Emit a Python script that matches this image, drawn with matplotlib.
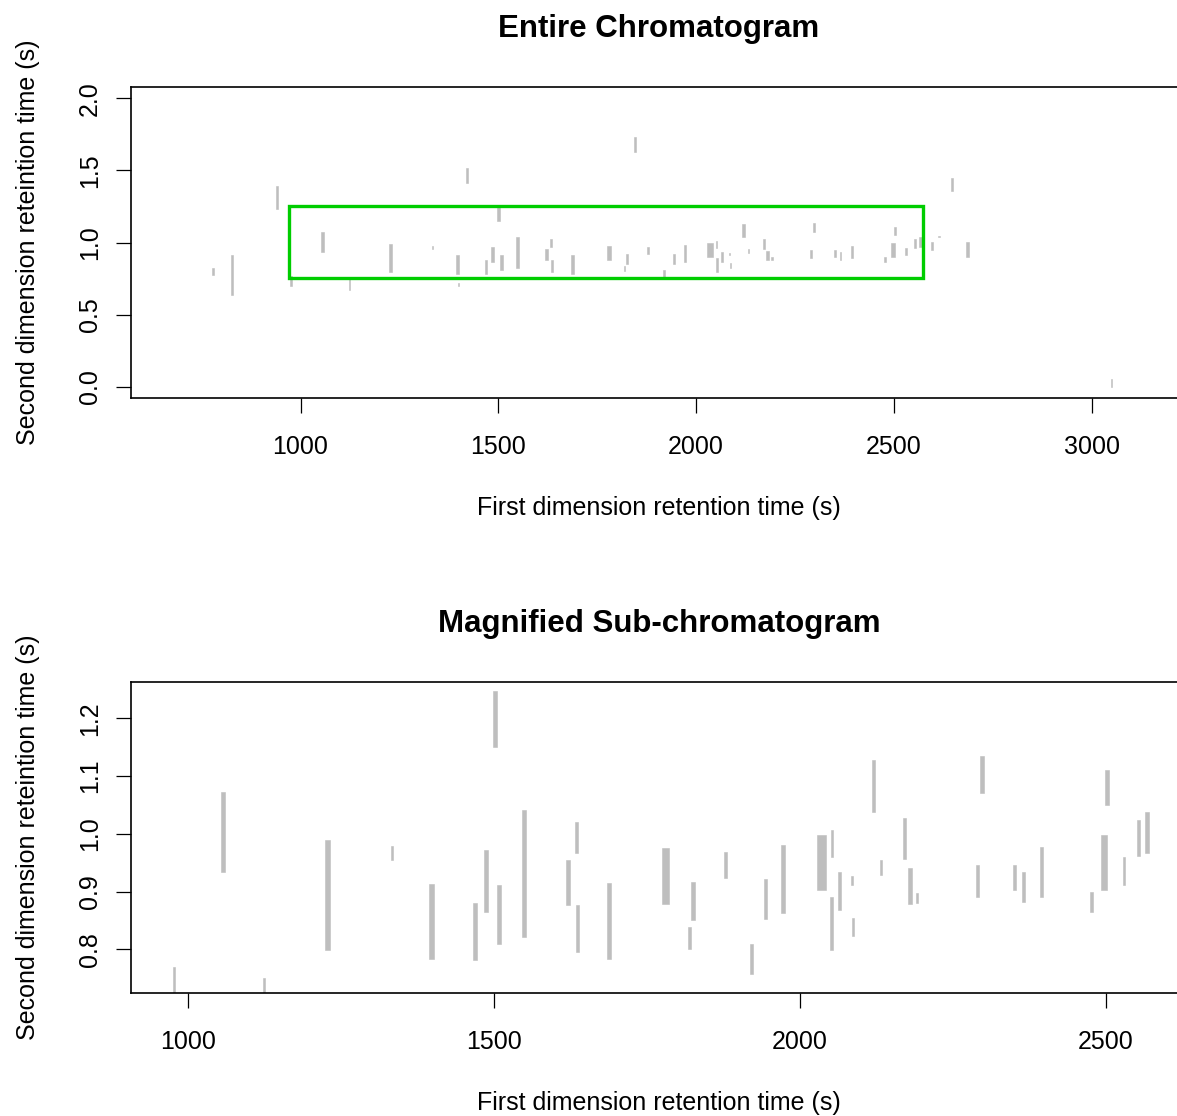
import matplotlib
matplotlib.use("Agg")
import matplotlib.pyplot as plt
from matplotlib.patches import Rectangle
import numpy as np

plt.rcParams['font.family'] = ['Liberation Sans', 'DejaVu Sans']

# ---- data: detected peaks (first-dimension RT, second-dimension RT range, peak width in s)
peak_rt1 = [779, 828, 940, 976, 1056, 1123, 1227, 1333, 1397, 1400, 1422, 1469, 1486,
            1501, 1508, 1549, 1621, 1634, 1636, 1688, 1780, 1819, 1825, 1846, 1878,
            1920, 1944, 1972, 2035, 2052, 2052, 2065, 2085, 2087, 2120, 2132, 2171,
            2180, 2192, 2290, 2298, 2351, 2365, 2395, 2477, 2497, 2502, 2530, 2553,
            2568, 2597, 2614, 2648, 2687, 3050]
peak_rt2_lo = [0.775, 0.636, 1.232, 0.700, 0.934, 0.671, 0.798, 0.955, 0.784, 0.700, 1.412, 0.781, 0.865,
               1.151, 0.810, 0.821, 0.876, 0.966, 0.795, 0.784, 0.879, 0.801, 0.850, 1.629, 0.923,
               0.758, 0.853, 0.862, 0.902, 0.960, 0.798, 0.868, 0.911, 0.823, 1.038, 0.929, 0.957,
               0.879, 0.880, 0.891, 1.071, 0.902, 0.882, 0.891, 0.865, 0.902, 1.050, 0.911, 0.961,
               0.966, 0.948, 1.035, 1.357, 0.902, 0.000]
peak_rt2_hi = [0.821, 0.913, 1.394, 0.769, 1.073, 0.750, 0.990, 0.979, 0.913, 0.720, 1.516, 0.880, 0.972,
               1.247, 0.911, 1.041, 0.955, 1.021, 0.876, 0.914, 0.975, 0.839, 0.917, 1.733, 0.969,
               0.810, 0.921, 0.981, 0.998, 1.007, 0.891, 0.934, 0.927, 0.855, 1.127, 0.955, 1.027,
               0.940, 0.897, 0.946, 1.135, 0.946, 0.934, 0.978, 0.899, 0.998, 1.110, 0.960, 1.024,
               1.038, 1.006, 1.045, 1.449, 1.006, 0.055]
peak_width = [6, 5, 5, 3, 7, 3, 8, 3, 8, 3, 5, 7, 7,
              7, 7, 7, 7, 5, 6, 7, 10, 4, 6, 5, 5,
              5, 5, 6, 14, 4, 5, 5, 3, 3, 6, 3, 5,
              6, 3, 5, 6, 5, 5, 5, 4, 9, 6, 4, 5,
              7, 5, 3, 5, 8, 3]

# region selected for magnification
rect_rt1 = [970, 2573]
rect_rt2 = [0.755, 1.25]

top_xticks = [1000, 1500, 2000, 2500, 3000]
top_yticks = [0.0, 0.5, 1.0, 1.5, 2.0]
bot_xticks = [1000, 1500, 2000, 2500]
bot_yticks = [0.8, 0.9, 1.0, 1.1, 1.2]

xlabel = "First dimension retention time (s)"
ylabel = "Second dimension reteintion time (s)"
titles = ["Entire Chromatogram", "Magnified Sub-chromatogram"]

PEAK = '#BEBEBE'
GREEN = '#00CD00'

W, H = 1177, 1116
fig = plt.figure(figsize=(W / 100, H / 100), dpi=100)

ax_h = 311.6 / H
ax_w = 1056 / W
ax_l = 131 / W
ax_top = fig.add_axes([ax_l, (H - 398.3) / H, ax_w, ax_h])
ax_bot = fig.add_axes([ax_l, (H - 993.3) / H, ax_w, ax_h])

x = np.array(peak_rt1, dtype=float)
lo = np.array(peak_rt2_lo)
hi = np.array(peak_rt2_hi)
w = np.array(peak_width, dtype=float)


def style(ax, xticks, yticks, yfmt, title):
    for s in ax.spines.values():
        s.set_linewidth(1.2)
        s.set_color('black')
    ax.set_xticks(xticks)
    ax.set_xticklabels([str(v) for v in xticks])
    ax.set_yticks(yticks)
    ax.set_yticklabels([yfmt.format(v) for v in yticks])
    ax.tick_params(axis='both', direction='out', length=11, width=0.9,
                   labelsize=18, colors='black')
    ax.tick_params(axis='x', pad=15.5)
    ax.tick_params(axis='y', pad=10, labelrotation=90)
    for lab in ax.get_yticklabels():
        lab.set_va('center')
        lab.set_ha('right')
    ax.set_xlabel(xlabel, fontsize=18, va='baseline')
    ax.xaxis.set_label_coords(0.5, -116.7 / 311.6)
    ax.set_ylabel(ylabel, fontsize=18, va='baseline')
    ax.yaxis.set_label_coords((35 - 131) / 1056, 0.5)
    ax.set_title(title, fontsize=22.5, fontweight='bold', y=1 + 50 / 311.6, pad=0,
                 va='baseline')


# top: entire chromatogram
ax_top.bar(x, hi - lo, bottom=lo, width=w, color=PEAK, edgecolor=PEAK, linewidth=0.4)
ax_top.add_patch(Rectangle((rect_rt1[0], rect_rt2[0]), rect_rt1[1] - rect_rt1[0],
                           rect_rt2[1] - rect_rt2[0], fill=False, edgecolor=GREEN,
                           linewidth=2.4, zorder=3))
ax_top.set_xlim(571.5, 571.5 + 1056 / 0.3956)
ax_top.set_ylim(-0.08, 2.08)
style(ax_top, top_xticks, top_yticks, "{:.1f}", titles[0])

# bottom: magnified sub-chromatogram (peaks inside the selected rt1 window)
sel = (x >= rect_rt1[0]) & (x <= rect_rt1[1])
ax_bot.bar(x[sel], (hi - lo)[sel], bottom=lo[sel], width=w[sel], color=PEAK,
           edgecolor=PEAK, linewidth=0.4)
ax_bot.set_xlim(906, 906 + 1056 / 0.6115)
ax_bot.set_ylim(0.7238, 1.2634)
style(ax_bot, bot_xticks, bot_yticks, "{:.1f}", titles[1])

fig.savefig("out.png", dpi=100)
